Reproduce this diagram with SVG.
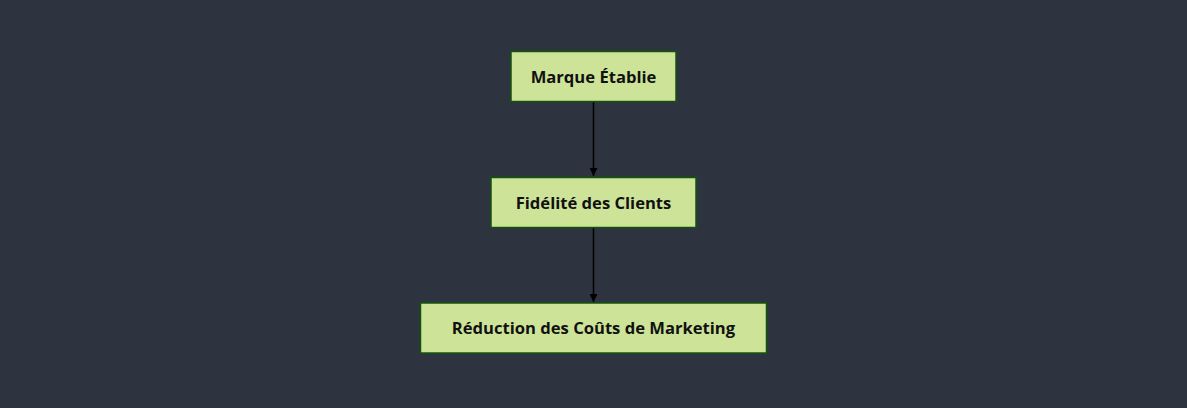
<svg xmlns="http://www.w3.org/2000/svg" width="1187" height="408" viewBox="0 0 1187 408">
<style>
.node rect{fill:#cde498;stroke:#13540c;stroke-width:1.5}
.node text{font-family:"Open Sans","DejaVu Sans",sans-serif;font-weight:bold;font-size:16.6px;fill:#111;text-anchor:middle;dominant-baseline:central}
.edge{stroke:#000;stroke-width:1.5;fill:none}
</style>
<defs>
<marker id="arr" viewBox="0 0 10 10" refX="10" refY="5" markerWidth="8" markerHeight="8" markerUnits="userSpaceOnUse" orient="auto">
<path d="M0,0 L10,5 L0,10 z" fill="#000"/>
</marker>
</defs>
<rect width="1187" height="408" fill="#2e343f"/>
<g id="connectors">
<path class="edge" d="M593.5,102 L593.5,176" marker-end="url(#arr)"/>
<path class="edge" d="M593.5,228 L593.5,302" marker-end="url(#arr)"/>
</g>
<g id="n1" class="node"><rect x="511" y="51.5" width="165" height="50"/><text x="593.5" y="76">Marque Établie</text></g>
<g id="n2" class="node"><rect x="491" y="177.5" width="205" height="50"/><text x="593.5" y="202">Fidélité des Clients</text></g>
<g id="n3" class="node"><rect x="420.5" y="303" width="346" height="50"/><text x="593.5" y="327.5">Réduction des Coûts de Marketing</text></g>
</svg>
